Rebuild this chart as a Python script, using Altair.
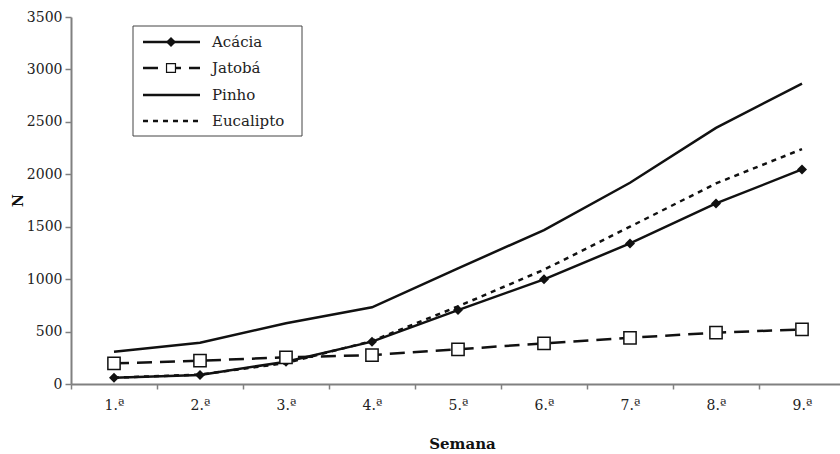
import altair as alt
import pandas as pd

weeks = ["1.ª", "2.ª", "3.ª", "4.ª", "5.ª", "6.ª", "7.ª", "8.ª", "9.ª"]
series_names = ["Acácia", "Jatobá", "Pinho", "Eucalipto"]
acacia = [60, 86, 213, 404, 705, 998, 1341, 1722, 2046]
jatoba = [197, 222, 254, 276, 331, 388, 441, 489, 521]
pinho = [308, 394, 579, 731, 1103, 1468, 1919, 2443, 2865]
eucalipto = [60, 90, 200, 410, 740, 1090, 1500, 1913, 2240]
y_ticks = [0, 500, 1000, 1500, 2000, 2500, 3000, 3500]

rows = []
for name, vals in zip(series_names, [acacia, jatoba, pinho, eucalipto]):
    for w, v in zip(weeks, vals):
        rows.append({"Semana": w, "N": v, "Espécie": name})
df = pd.DataFrame(rows)

FONT = "DejaVu Serif"
INK = "#111111"
AXIS_GRAY = "#808080"

x = alt.X(
    "Semana:N",
    sort=weeks,
    bandPosition=0.5,
    scale=alt.Scale(type="band", paddingInner=0, paddingOuter=0, range=[0, 774]),
    axis=alt.Axis(
        title="Semana",
        tickBand="extent",
        tickSize=5,
        labelPadding=9,
        labelAngle=0,
        labelFont=FONT,
        labelFontSize=14,
        labelColor="#222222",
        titleFont=FONT,
        titleFontSize=15,
        titleFontWeight="bold",
        titleColor="#111111",
        titlePadding=24,
        titleX=391,
        domainColor=AXIS_GRAY,
        domainWidth=2,
        tickColor=AXIS_GRAY,
        tickWidth=1.5,
        grid=False,
    ),
)
y = alt.Y(
    "N:Q",
    scale=alt.Scale(domain=[0, 3500], nice=False),
    axis=alt.Axis(
        title="N",
        values=y_ticks,
        format="d",
        tickSize=6,
        labelPadding=3,
        labelFont=FONT,
        labelFontSize=14,
        labelColor="#222222",
        titleFont=FONT,
        titleFontSize=14,
        titleFontWeight="bold",
        titleColor="#111111",
        titleX=-53,
        titleY=183,
        titleBaseline="middle",
        domainColor=AXIS_GRAY,
        domainWidth=2,
        tickColor=AXIS_GRAY,
        tickWidth=1.5,
        grid=False,
    ),
)

styles = {
    "Acácia": {},
    "Jatobá": {"strokeDash": [15, 8]},
    "Pinho": {},
    "Eucalipto": {"strokeDash": [5, 5]},
}

base = alt.Chart(df)
layers = []
for name in series_names:
    layers.append(
        base.transform_filter(alt.datum["Espécie"] == name)
        .mark_line(color=INK, strokeWidth=2.5, **styles[name])
        .encode(x=x, y=y)
    )

layers.append(
    base.transform_filter(alt.datum["Espécie"] == "Acácia")
    .mark_point(shape="diamond", filled=True, size=100, color=INK, opacity=1)
    .encode(x=x, y=y)
)
layers.append(
    base.transform_filter(alt.datum["Espécie"] == "Jatobá")
    .mark_point(shape="square", filled=True, size=150, fill="white", stroke=INK, strokeWidth=1.5, opacity=1)
    .encode(x=x, y=y)
)

# legend (layout in pixels of the plot area)
one = alt.Chart(pd.DataFrame({"k": [0]}))
layers.append(
    one.mark_rect(fill="white", stroke="#444444", strokeWidth=1).encode(
        x=alt.value(62), x2=alt.value(231), y=alt.value(9), y2=alt.value(119)
    )
)
row_y = [25, 51, 78, 104]
for name, ry in zip(series_names, row_y):
    layers.append(
        one.mark_rule(color=INK, strokeWidth=2.5, **styles[name]).encode(
            x=alt.value(72), x2=alt.value(129), y=alt.value(ry)
        )
    )
    layers.append(
        one.mark_text(align="left", baseline="middle", font=FONT, fontSize=15, color="#222222").encode(
            x=alt.value(141), y=alt.value(ry), text=alt.value(name)
        )
    )
layers.append(
    one.mark_point(shape="diamond", filled=True, size=100, color=INK, opacity=1).encode(
        x=alt.value(100), y=alt.value(row_y[0])
    )
)
layers.append(
    one.mark_point(shape="square", filled=True, size=80, fill="white", stroke=INK, strokeWidth=1.2, opacity=1).encode(
        x=alt.value(100), y=alt.value(row_y[1])
    )
)

chart = (
    alt.layer(*layers)
    .properties(
        width=769,
        height=367,
        autosize=alt.AutoSizeParams(type="none"),
        padding={"left": 71, "top": 17, "right": 0, "bottom": 70},
        background="white",
    )
    .configure_view(stroke=None)
)

chart.save("out.html", embed_options={"renderer": "svg", "actions": False})
